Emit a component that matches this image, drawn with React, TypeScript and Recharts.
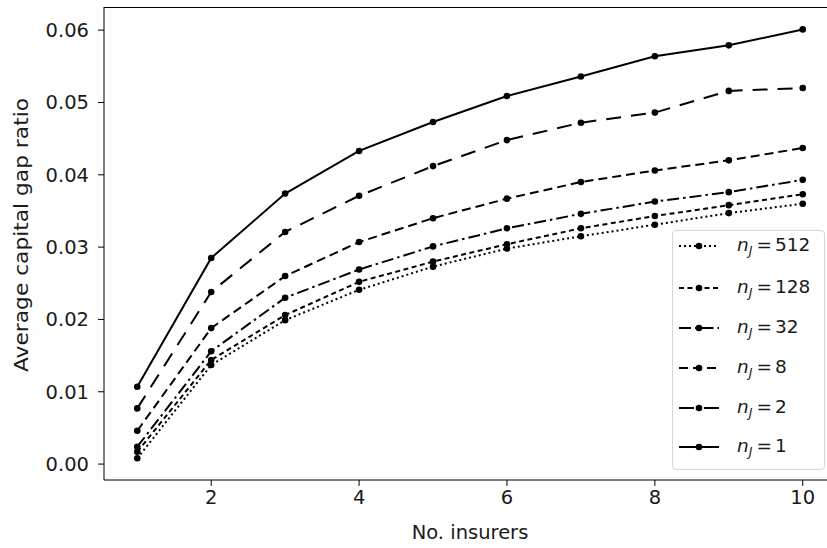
import React from 'react';
import {
  LineChart,
  Line,
  XAxis,
  YAxis,
  Legend,
  Label,
  CartesianGrid
} from 'recharts';

const insurers = [1, 2, 3, 4, 5, 6, 7, 8, 9, 10];

const gapN1 = [0.0107, 0.0285, 0.0374, 0.0433, 0.0473, 0.0509, 0.0536, 0.0564, 0.0579, 0.0601];
const gapN2 = [0.0077, 0.0238, 0.0321, 0.0371, 0.0412, 0.0448, 0.0472, 0.0486, 0.0516, 0.0520];
const gapN8 = [0.0046, 0.0188, 0.0260, 0.0307, 0.0340, 0.0367, 0.0390, 0.0406, 0.0420, 0.0437];
const gapN32 = [0.0024, 0.0156, 0.0230, 0.0269, 0.0301, 0.0326, 0.0346, 0.0363, 0.0376, 0.0393];
const gapN128 = [0.0017, 0.0144, 0.0206, 0.0252, 0.0280, 0.0304, 0.0326, 0.0343, 0.0358, 0.0373];
const gapN512 = [0.0008, 0.0137, 0.0199, 0.0241, 0.0273, 0.0298, 0.0315, 0.0331, 0.0347, 0.0360];

const xTicks = [2, 4, 6, 8, 10];
const yTicks = [0, 0.01, 0.02, 0.03, 0.04, 0.05, 0.06];

// legend order, top to bottom
const series = [
  { key: 'n512', label: '512', values: gapN512, dash: '2 3' },
  { key: 'n128', label: '128', values: gapN128, dash: '5 3.5' },
  { key: 'n32', label: '32', values: gapN32, dash: '12 4 2.5 4' },
  { key: 'n8', label: '8', values: gapN8, dash: '9 5' },
  { key: 'n2', label: '2', values: gapN2, dash: '15 10' },
  { key: 'n1', label: '1', values: gapN1, dash: undefined as string | undefined }
];

const data = insurers.map((x, i) => {
  const row: Record<string, number> = { x };
  series.forEach((s) => {
    row[s.key] = s.values[i];
  });
  return row;
});

const FONT = '"DejaVu Sans", sans-serif';
const TEXT = '#1a1a1a';

const LegendBox = () => (
  <div
    style={{
      position: 'relative',
      width: 151,
      height: 238,
      border: '1px solid #d6d6d6',
      borderRadius: 4,
      background: 'rgba(255,255,255,0.85)',
      fontFamily: FONT,
      color: TEXT,
      fontSize: 18.5
    }}
  >
    {series.map((s, i) => (
      <div
        key={s.key}
        style={{
          position: 'absolute',
          left: 0,
          top: [15, 57, 97, 137, 177, 216][i] - 14,
          height: 28,
          display: 'flex',
          alignItems: 'center'
        }}
      >
        <svg width={64} height={28} style={{ display: 'block' }}>
          <line x1={6} x2={46} y1={14} y2={14} stroke="#000" strokeWidth={2} strokeDasharray={s.dash} />
          <circle cx={26} cy={14} r={3.3} fill="#000" />
        </svg>
        <span style={{ whiteSpace: 'nowrap', lineHeight: '28px' }}>
          <span style={{ fontStyle: 'italic' }}>n</span>
          <span style={{ fontStyle: 'italic', fontSize: 12.5, position: 'relative', top: 4 }}>J</span>
          <span style={{ marginLeft: 4 }}>=</span>
          <span style={{ marginLeft: 3 }}>{s.label}</span>
        </span>
      </div>
    ))}
  </div>
);

export default function App() {
  return (
    <div style={{ position: 'fixed', left: 0, top: 0, width: 827, height: 548, overflow: 'hidden', background: '#fff' }}>
      <LineChart width={840} height={548} data={data} margin={{ top: 7, right: 4, left: 0, bottom: 0 }}>
        {/* top spine */}
        <CartesianGrid vertical={false} horizontalPoints={[7.5]} stroke="#000" strokeWidth={1} strokeOpacity={1} />
        <XAxis
          dataKey="x"
          type="number"
          domain={[0.55, 10.45]}
          ticks={xTicks}
          allowDataOverflow
          height={68}
          stroke="#000"
          tickSize={6}
          tickMargin={4}
          tick={{ fill: TEXT, fontSize: 19.5, fontFamily: FONT }}
        >
          <Label
            content={() => (
              <text x={470} y={539} textAnchor="middle" fill={TEXT} fontSize={19.5} fontFamily={FONT}>
                No. insurers
              </text>
            )}
          />
        </XAxis>
        <YAxis
          type="number"
          domain={[-0.0022, 0.0632]}
          ticks={yTicks}
          allowDataOverflow
          width={104}
          stroke="#000"
          tickSize={6}
          tickMargin={9}
          tickFormatter={(v: number) => v.toFixed(2)}
          tick={{ fill: TEXT, fontSize: 19.5, fontFamily: FONT }}
        >
          <Label
            content={() => (
              <text
                x={0}
                y={0}
                transform="translate(28, 235) rotate(-90)"
                textAnchor="middle"
                fill={TEXT}
                fontSize={19.5}
                fontFamily={FONT}
                textLength={274}
                lengthAdjust="spacingAndGlyphs"
              >
                Average capital gap ratio
              </text>
            )}
          />
        </YAxis>
        {series.map((s) => (
          <Line
            key={s.key}
            dataKey={s.key}
            type="linear"
            stroke="#000"
            strokeWidth={2}
            strokeDasharray={s.dash}
            dot={{ r: 3.3, fill: '#000', stroke: 'none' }}
            activeDot={false}
            isAnimationActive={false}
          />
        ))}
        <Legend
          layout="vertical"
          align="center"
          verticalAlign="middle"
          wrapperStyle={{ position: 'absolute', left: 672, top: 230, width: 153, height: 240 }}
          content={() => <LegendBox />}
        />
      </LineChart>
    </div>
  );
}
